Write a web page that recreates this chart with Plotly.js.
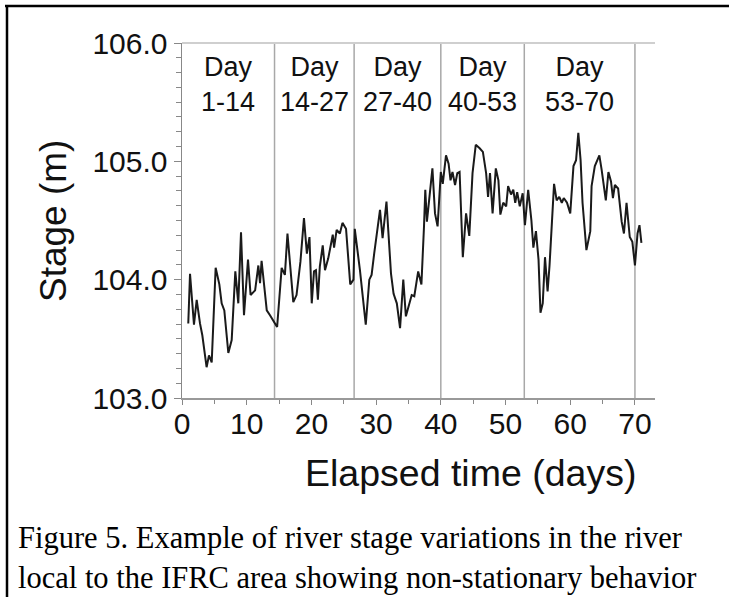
<!DOCTYPE html>
<html>
<head>
<meta charset="utf-8">
<script src="https://cdn.plot.ly/plotly-3.0.1.min.js"></script>
<style>html,body{margin:0;padding:0;background:#fff;}#chart{width:729px;height:597px;}</style>
</head>
<body>
<div id="chart"></div>
<script>
// Elapsed time (days) and river stage (m)
const days = [0.97,1.24,1.85,2.27,2.78,3.14,3.8,4.17,4.59,4.84,5.2,5.77,6.13,6.54,7.16,7.68,8.24,8.7,9.12,9.58,10.2,10.6,11.3,11.8,12.06,12.3,13.1,13.6,14.7,15.4,15.9,16.3,17.2,17.7,18.3,18.85,19.3,19.7,20.05,20.4,20.7,21.0,21.3,21.75,22.1,22.6,23.3,23.5,23.9,24.4,24.8,25.35,26.0,26.5,26.7,27.5,28.4,28.95,29.3,29.7,30.35,30.6,31.0,31.6,32.3,32.7,33.2,33.7,34.2,34.6,35.5,35.9,36.5,37.0,37.4,37.6,37.85,38.3,38.7,39.1,39.5,40.0,40.3,40.8,41.2,41.5,41.8,42.2,42.55,42.9,43.4,43.9,44.4,44.9,45.4,46.0,46.5,47.0,47.3,47.6,48.0,48.5,48.9,49.2,49.65,50.1,50.4,50.85,51.2,51.5,51.8,52.2,52.65,53.0,53.5,54.0,54.3,54.7,55.1,55.4,55.75,56.1,56.5,56.8,57.1,57.5,57.9,58.3,58.7,59.0,59.5,60.0,60.5,60.9,61.25,61.6,61.9,62.5,63.1,63.3,63.8,64.5,64.85,65.2,65.5,65.9,66.3,66.6,66.9,67.4,67.95,68.3,68.7,69.2,69.6,70.0,70.4,70.7,71.0];
const stage = [103.63,104.05,103.62,103.83,103.63,103.53,103.26,103.36,103.30,103.66,104.10,103.96,103.80,103.74,103.38,103.49,104.07,103.80,104.40,103.70,104.17,103.87,103.91,104.12,103.97,104.16,103.74,103.70,103.60,104.10,104.04,104.39,103.81,103.87,104.15,104.52,104.22,104.36,103.80,104.07,104.08,103.83,104.11,104.29,104.08,104.18,104.38,104.27,104.42,104.39,104.48,104.43,103.96,104.00,104.43,104.08,103.62,104.00,104.04,104.22,104.48,104.59,104.35,104.66,104.05,103.88,103.80,103.59,104.00,103.69,103.87,103.86,104.07,103.96,104.45,104.76,104.49,104.76,104.94,104.56,104.45,104.91,104.81,105.05,104.98,104.84,104.91,104.80,104.90,104.91,104.19,104.56,104.37,104.90,105.14,105.11,105.08,104.90,104.70,104.90,104.56,104.94,104.84,104.55,104.65,104.62,104.79,104.72,104.76,104.65,104.74,104.62,104.73,104.46,104.76,104.50,104.27,104.41,104.17,103.72,103.80,104.19,103.90,104.12,104.42,104.81,104.67,104.70,104.65,104.69,104.65,104.56,104.96,105.01,105.24,105.01,104.65,104.25,104.41,104.79,104.96,105.05,104.93,104.79,104.67,104.91,104.83,104.69,104.80,104.77,104.49,104.39,104.65,104.36,104.32,104.12,104.39,104.46,104.31];

// Period boundaries (days) and their labels
const dividers = [14.3, 26.6, 40, 52.9, 70];
const periodStarts = [0, 14.3, 26.6, 40, 52.9];
const periodLabels = ["Day<br>1-14", "Day<br>14-27", "Day<br>27-40", "Day<br>40-53", "Day<br>53-70"];

const xTitle = "Elapsed time (days)";
const yTitle = "Stage (m)";
const caption1 = "Figure 5. Example of river stage variations in the river";
const caption2 = "local to the IFRC area showing non-stationary behavior";

const L = 182, R = 74, T = 43, B = 199, W = 729, H = 597;
const pw = W - L - R, ph = H - T - B;
const px = v => (v - L) / pw;          // pixel x -> paper
const py = v => (H - B - v) / ph;      // pixel y -> paper

const sans = "Liberation Sans, Arial, sans-serif";
const serif = "Liberation Serif, Times New Roman, serif";

const shapes = [];
dividers.forEach(d => shapes.push({type:'line', xref:'x', yref:'paper', x0:d, x1:d, y0:0, y1:1,
  line:{color:'#a8a8a8', width:1.5}, layer:'below'}));
shapes.push({type:'line', xref:'paper', yref:'paper', x0:0, x1:1, y0:1, y1:1, line:{color:'#cfcfcf', width:2}});
// figure frame (top and left edges)
shapes.push({type:'line', xref:'paper', yref:'paper', x0:px(5), x1:px(735), y0:py(6), y1:py(6), line:{color:'#000', width:2.5}});
shapes.push({type:'line', xref:'paper', yref:'paper', x0:px(7), x1:px(7), y0:py(5), y1:py(600), line:{color:'#000', width:2.5}});

const annotations = [];
periodLabels.forEach((t, i) => {
  const end = dividers[i];
  annotations.push({text:t, xref:'x', yref:'paper', x:(periodStarts[i] + end) / 2, y:py(85),
    xanchor:'center', yanchor:'middle', showarrow:false, font:{family:sans, size:27, color:'#111'}});
});
annotations.push({text:xTitle, xref:'paper', yref:'paper', x:px(470), y:py(473), xanchor:'center', yanchor:'middle',
  showarrow:false, font:{family:sans, size:37.5, color:'#111'}});
annotations.push({text:yTitle, xref:'paper', yref:'paper', x:px(53), y:py(221), xanchor:'center', yanchor:'middle',
  textangle:-90, showarrow:false, font:{family:sans, size:37, color:'#111'}});
annotations.push({text:caption1, xref:'paper', yref:'paper', x:px(16), y:py(538), xanchor:'left', yanchor:'middle',
  showarrow:false, font:{family:serif, size:30.5, color:'#000'}});
annotations.push({text:caption2, xref:'paper', yref:'paper', x:px(16), y:py(578), xanchor:'left', yanchor:'middle',
  showarrow:false, font:{family:serif, size:30.5, color:'#000'}});

const trace = {x:days, y:stage, type:'scatter', mode:'lines', line:{color:'#1a1a1a', width:2}, hoverinfo:'skip'};

const layout = {
  width:W, height:H, margin:{l:L, r:R, t:T, b:B}, paper_bgcolor:'#fff', plot_bgcolor:'#fff', showlegend:false,
  xaxis:{range:[0, 73.1], tickmode:'linear', tick0:0, dtick:10, ticks:'outside', ticklen:5, tickcolor:'#888', tickwidth:1,
    showline:true, linecolor:'#999', linewidth:1.5, showgrid:false, zeroline:false, ticklabelstandoff:-7,
    tickfont:{family:sans, size:30, color:'#111'},
    minor:{dtick:5, ticks:'outside', ticklen:4, tickcolor:'#888', showgrid:false}},
  yaxis:{range:[103, 106], tickmode:'linear', tick0:103, dtick:1, tickformat:'.1f', ticks:'outside', ticklen:7, tickcolor:'#888', tickwidth:1,
    showline:true, linecolor:'#888', linewidth:1.5, showgrid:false, zeroline:false,
    tickfont:{family:sans, size:30, color:'#111'},
    minor:{dtick:0.125, ticks:'outside', ticklen:5, tickcolor:'#888', showgrid:false}},
  shapes:shapes, annotations:annotations
};

Plotly.newPlot('chart', [trace], layout, {staticPlot:true, displayModeBar:false});
</script>
</body>
</html>
